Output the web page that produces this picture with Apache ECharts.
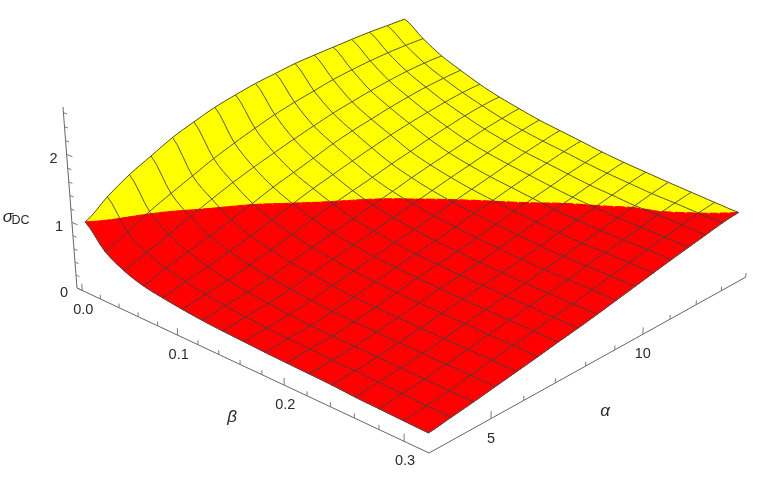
<!DOCTYPE html>
<html>
<head>
<meta charset="utf-8">
<style>html,body{margin:0;padding:0;background:#fff}#main{width:763px;height:483px}</style>
<script src="https://cdn.jsdelivr.net/npm/echarts@6/dist/echarts.min.js"></script>
</head>
<body>
<div id="main"></div>
<script>
// mesh lines of the surface
const alphaLines = [3.43,4.08,4.73,5.37,6.02,6.67,7.32,7.97,8.61,9.26,9.91,10.56,11.21,11.86,12.50,13.15,13.80];
const betaLines = [0,0.0196,0.0391,0.0587,0.0782,0.0978,0.1173,0.1369,0.1564,0.176,0.1955,0.2151,0.2346,0.2542,0.2737,0.2933,0.3128];
// sigma_DC at every mesh crossing, one row per beta line
const sigmaRows = [
  [1.00,1.255,1.47,1.64,1.81,1.94,2.06,2.15,2.23,2.29,2.35,2.39,2.425,2.46,2.49,2.51,2.53],
  [0.68,0.84,1.025,1.18,1.33,1.48,1.61,1.73,1.84,1.93,2.01,2.09,2.15,2.20,2.24,2.27,2.29],
  [0.51,0.65,0.79,0.94,1.085,1.22,1.34,1.45,1.555,1.655,1.75,1.83,1.905,1.97,2.025,2.065,2.09],
  [0.41,0.535,0.65,0.76,0.885,1.01,1.14,1.25,1.36,1.475,1.57,1.65,1.73,1.80,1.86,1.905,1.94],
  [0.36,0.46,0.55,0.65,0.755,0.875,0.995,1.11,1.21,1.31,1.405,1.495,1.575,1.645,1.71,1.765,1.80],
  [0.32,0.40,0.475,0.565,0.66,0.765,0.875,0.98,1.07,1.16,1.255,1.34,1.43,1.51,1.585,1.645,1.685],
  [0.29,0.36,0.42,0.505,0.595,0.69,0.78,0.87,0.96,1.05,1.145,1.23,1.31,1.39,1.47,1.535,1.59],
  [0.27,0.33,0.385,0.46,0.545,0.63,0.715,0.80,0.88,0.97,1.055,1.14,1.22,1.30,1.38,1.445,1.50],
  [0.255,0.305,0.35,0.42,0.50,0.58,0.66,0.74,0.815,0.90,0.985,1.065,1.145,1.225,1.30,1.37,1.43],
  [0.24,0.285,0.325,0.39,0.46,0.54,0.62,0.69,0.76,0.845,0.925,1.005,1.085,1.16,1.235,1.305,1.36],
  [0.23,0.275,0.31,0.37,0.44,0.515,0.59,0.655,0.72,0.795,0.875,0.95,1.025,1.095,1.17,1.235,1.29],
  [0.22,0.26,0.30,0.36,0.42,0.49,0.56,0.62,0.68,0.755,0.83,0.90,0.965,1.035,1.105,1.175,1.23],
  [0.21,0.25,0.29,0.345,0.405,0.47,0.535,0.595,0.65,0.715,0.785,0.855,0.92,0.99,1.06,1.125,1.18],
  [0.19,0.235,0.275,0.33,0.39,0.455,0.515,0.57,0.62,0.685,0.75,0.815,0.88,0.945,1.01,1.075,1.13],
  [0.18,0.225,0.265,0.32,0.375,0.435,0.495,0.55,0.60,0.665,0.73,0.795,0.855,0.92,0.985,1.04,1.085],
  [0.17,0.21,0.255,0.31,0.365,0.42,0.475,0.525,0.575,0.64,0.705,0.765,0.83,0.885,0.945,1.00,1.04],
  [0.16,0.205,0.25,0.30,0.35,0.40,0.455,0.505,0.56,0.62,0.68,0.74,0.80,0.855,0.91,0.965,1.00]
];
// tick lists
const alphaTicks = [5,6,7,8,9,10,11,12,13,14];
const betaTicks = [0,0.02,0.04,0.06,0.08,0.1,0.12,0.14,0.16,0.18,0.2,0.22,0.24,0.26,0.28,0.3];
const sigmaTicks = [0,0.2,0.4,0.6,0.8,1,1.2,1.4,1.6,1.8,2,2.2,2.4,2.6];
const alphaLabels = [5,10];
const betaLabels = ['0.0','0.1','0.2','0.3'];
const sigmaLabels = [0,1,2];

// box coordinates (0..1 along each edge of the bounding box)
function boxU(a){ return (a-3.214)*0.0926; }
function boxV(b){ return 0.018+3.075*b; }
function boxW(s){ return s/2.68; }
// perspective camera fitted to the box corners
function project(u,v,w){
  const X=77+402.6*u+279.1*v-16.8*w;
  const Y=288-94.3*u+88*v-185.7*w;
  const Z=1+0.187*u-0.17*v-0.044*w;
  return [X/Z,Y/Z];
}

// spline through the table, so cell edges curve like the surface does
const STEPS=4;
function spline(p0,p1,p2,p3,t){
  return 0.5*(2*p1+(p2-p0)*t+(2*p0-5*p1+4*p2-p3)*t*t+(3*p1-p0-3*p2+p3)*t*t*t);
}
function clampIndex(n){ return Math.max(0,Math.min(16,n)); }
function sigmaAt(x,y){
  const i=Math.min(Math.floor(x),15),j=Math.min(Math.floor(y),15);
  const col=[];
  for(let r=-1;r<=2;r++){
    const row=sigmaRows[clampIndex(j+r)];
    col.push(spline(row[clampIndex(i-1)],row[i],row[i+1],row[clampIndex(i+2)],x-i));
  }
  return spline(col[0],col[1],col[2],col[3],y-j);
}
function lerpLine(list,x){
  const i=Math.min(Math.floor(x),15);
  return list[i]+(x-i)*(list[i+1]-list[i]);
}
function gridToPlot(x,y,s){
  return project(boxU(lerpLine(alphaLines,x)),boxV(lerpLine(betaLines,y)),boxW(s));
}

// cut a cell at sigma = 1, keeps the part on one side
function clipCell(corners,keepAbove){
  const out=[];
  const inside=p=>keepAbove?p[2]>=1:p[2]<=1;
  for(let k=0;k<corners.length;k++){
    const a=corners[k],b=corners[(k+1)%corners.length];
    if(inside(a)) out.push(a);
    if(inside(a)!==inside(b)){
      const t=(1-a[2])/(b[2]-a[2]);
      out.push([a[0]+t*(b[0]-a[0]),a[1]+t*(b[1]-a[1]),1]);
    }
  }
  return out;
}

const cellData=[];
for(let j=0;j<16;j++) for(let i=0;i<16;i++) cellData.push([i,j]);

function renderCell(params,api){
  const i=api.value(0),j=api.value(1);
  const children=[];
  const h=1/STEPS;
  for(let a=0;a<STEPS;a++) for(let b=0;b<STEPS;b++){
    const x=i+a*h,y=j+b*h;
    const corners=[[x,y],[x+h,y],[x+h,y+h],[x,y+h]].map(c=>[c[0],c[1],sigmaAt(c[0],c[1])]);
    [[true,'#ffff00'],[false,'#ff0000']].forEach(part=>{
      const poly=clipCell(corners,part[0]);
      if(poly.length<3) return;
      children.push({type:'polygon',shape:{points:poly.map(p=>api.coord(gridToPlot(p[0],p[1],p[2])))},
        style:{fill:part[1],stroke:part[1],lineWidth:1,lineJoin:'round'}});
    });
  }
  return {type:'group',children:children};
}

const meshData=[];
for(let k=0;k<17;k++){ meshData.push([0,k]); meshData.push([1,k]); }

function renderMesh(params,api){
  const dir=api.value(0),k=api.value(1);
  const pts=[];
  for(let n=0;n<=16*STEPS;n++){
    const x=dir===0?n/STEPS:k, y=dir===0?k:n/STEPS;
    pts.push(api.coord(gridToPlot(x,y,sigmaAt(x,y))));
  }
  const border=k===0||k===16;
  return {type:'polyline',shape:{points:pts},
    style:{fill:null,stroke:border?'#4d4d4d':'rgba(60,60,60,0.85)',lineWidth:1}};
}

// axes of the box: 0 alpha, 1 beta, 2 sigma
const axisLines=[
  [project(0,1,0),project(1,1,0)],
  [project(0,0,0),project(0,1,0)],
  [project(0,0,0),project(0,0,1)]
];
const tickData=[];
alphaTicks.forEach(t=>tickData.push([0,t]));
betaTicks.forEach(t=>tickData.push([1,t]));
sigmaTicks.forEach(t=>tickData.push([2,t]));

function tickFoot(ax,t){
  if(ax===0) return [boxU(t),1,0];
  if(ax===1) return [0,boxV(t),0];
  return [0,0,boxW(t)];
}
function renderTick(params,api){
  const ax=api.value(0),t=api.value(1);
  const f=tickFoot(ax,t);
  const major=ax===0?t%5===0:(ax===1?Math.abs(t*10-Math.round(t*10))<1e-6:Number.isInteger(t));
  const len=major?1.6:1;
  const end=ax===2?[f[0],f[1]+0.012*len,f[2]]:[f[0],f[1],f[2]+0.024*len];
  const a=api.coord(project(f[0],f[1],f[2])),b=api.coord(project(end[0],end[1],end[2]));
  return {type:'line',shape:{x1:a[0],y1:a[1],x2:b[0],y2:b[1]},style:{stroke:'#7a7a7a',lineWidth:1}};
}
function renderAxisLine(params,api){
  const l=axisLines[api.value(0)];
  const a=api.coord(l[0]),b=api.coord(l[1]);
  return {type:'line',shape:{x1:a[0],y1:a[1],x2:b[0],y2:b[1]},style:{stroke:'#666',lineWidth:1}};
}

const labelData=[];
alphaLabels.forEach(t=>labelData.push([0,t,String(t)]));
betaLabels.forEach(t=>labelData.push([1,Number(t),t]));
sigmaLabels.forEach(t=>labelData.push([2,t,String(t)]));
const labelFont='14.5px "Liberation Sans", Arial, sans-serif';
function renderLabel(params,api){
  const ax=api.value(0),t=api.value(1);
  const f=tickFoot(ax,t);
  const p=api.coord(project(f[0],f[1],f[2]));
  const off=ax===0?[0,20]:ax===1?[1,20]:[-13,5];
  return {type:'text',x:p[0]+off[0],y:p[1]+off[1],
    style:{text:labelData[params.dataIndex][2],font:labelFont,fill:'#2b2b2b',align:'center',verticalAlign:'middle'}};
}

function titleText(text,x,y,font){
  return {type:'text',x:x,y:y,style:{text:text,font:font,fill:'#2b2b2b',align:'center',verticalAlign:'middle'}};
}
const italic='italic 17px "Liberation Sans", Arial, sans-serif';

const chart=echarts.init(document.getElementById('main'),null,{renderer:'canvas'});
const base={type:'custom',coordinateSystem:'cartesian2d',clip:false,silent:true,animation:false};
chart.setOption({
  animation:false,
  backgroundColor:'#fff',
  grid:{left:0,right:0,top:0,bottom:0},
  xAxis:{type:'value',min:0,max:763,show:false},
  yAxis:{type:'value',min:0,max:483,inverse:true,show:false},
  graphic:[
    titleText('α',605,411,italic),
    titleText('β',232,417,italic),
    titleText('σ',8,217,italic),
    titleText('DC',20.5,221,'12.5px "Liberation Sans", Arial, sans-serif')
  ],
  series:[
    Object.assign({},base,{name:'axis',data:[[0,0],[1,0],[2,0]],renderItem:renderAxisLine,z:1}),
    Object.assign({},base,{name:'ticks',data:tickData,renderItem:renderTick,z:1}),
    Object.assign({},base,{name:'surface',data:cellData,renderItem:renderCell,z:2}),
    Object.assign({},base,{name:'mesh',data:meshData,renderItem:renderMesh,z:3}),
    Object.assign({},base,{name:'labels',data:labelData.map(d=>[d[0],d[1]]),renderItem:renderLabel,z:4})
  ]
});
</script>
</body>
</html>
